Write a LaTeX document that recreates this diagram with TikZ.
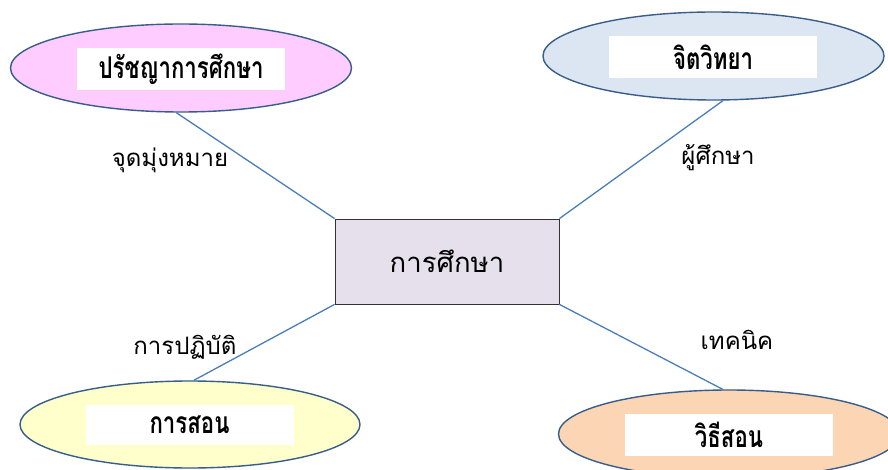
\documentclass[tikz,border=0pt]{standalone}
\usepackage{graphicx}
\usepackage{fontspec}
\newfontfamily\thaifont[Script=Thai]{Loma}
\usetikzlibrary{shapes.geometric}
\definecolor{edgeblue}{HTML}{385D8A}
\definecolor{linkblue}{HTML}{4A7EBB}
\definecolor{pinkfill}{HTML}{FFCCFF}
\definecolor{bluefill}{HTML}{DCE6F2}
\definecolor{yellowfill}{HTML}{FFFFCC}
\definecolor{peachfill}{HTML}{FCD5B4}
\definecolor{lilacfill}{HTML}{E6E0EC}
\newcommand{\narrowtag}[1]{\scalebox{0.74}[1]{#1}}
\tikzset{
  bubble/.style={ellipse, draw=edgeblue, line width=1.4pt, inner sep=0pt,
    minimum width=341pt, minimum height=88pt},
  tagbox/.style={fill=white, inner sep=0pt, minimum width=208pt, minimum height=42pt,
    font=\thaifont\bfseries\fontsize{30}{34}\selectfont},
  centerbox/.style={draw=black!80, line width=0.8pt, fill=lilacfill, inner sep=0pt,
    minimum width=224pt, minimum height=85pt, font=\thaifont\fontsize{27.5}{32}\selectfont},
  linklabel/.style={inner sep=0pt, font=\thaifont\fontsize{24}{28}\selectfont},
  link/.style={draw=linkblue, line width=1.3pt}
}
\begin{document}
\begin{tikzpicture}[x=1pt,y=-1pt]
\useasboundingbox (0,0) rectangle (888,470);
\clip (0,0) rectangle (888,470);
\fill[white] (0,0) rectangle (888,470);
% ellipses
\node[bubble, fill=pinkfill] (e1) at (181,68) {};
\node[bubble, fill=bluefill] (e2) at (713.5,56) {};
\node[bubble, fill=yellowfill, minimum width=340pt, minimum height=87pt] (e3) at (190,424.5) {};
\node[bubble, fill=peachfill] (e4) at (729,434) {};
% white text boxes
\node[tagbox] (t1) at (181,69) {\narrowtag{ปรัชญาการศึกษา}};
\node[tagbox] (t2) at (713,57) {\narrowtag{จิตวิทยา}};
\node[tagbox, minimum height=40pt] (t3) at (189.5,425) {\narrowtag{การสอน}};
\node[tagbox] (t4) at (729,435) {\narrowtag{วิธีสอน}};
% center
\node[centerbox] (c) at (447,261.5) {การศึกษา};
% links
\draw[link] (e1.264) -- (c.north west);
\draw[link] (e2.282) -- (c.north east);
\draw[link] (e3.85) -- (c.south west);
\draw[link] (e4.98) -- (c.south east);
% labels
\node[linklabel] (l1) at (170,160) {จุดมุ่งหมาย};
\node[linklabel] (l2) at (718,158) {ผู้ศึกษา};
\node[linklabel] (l3) at (185,347) {การปฏิบัติ};
\node[linklabel] (l4) at (737,340) {เทคนิค};
\end{tikzpicture}
\end{document}
